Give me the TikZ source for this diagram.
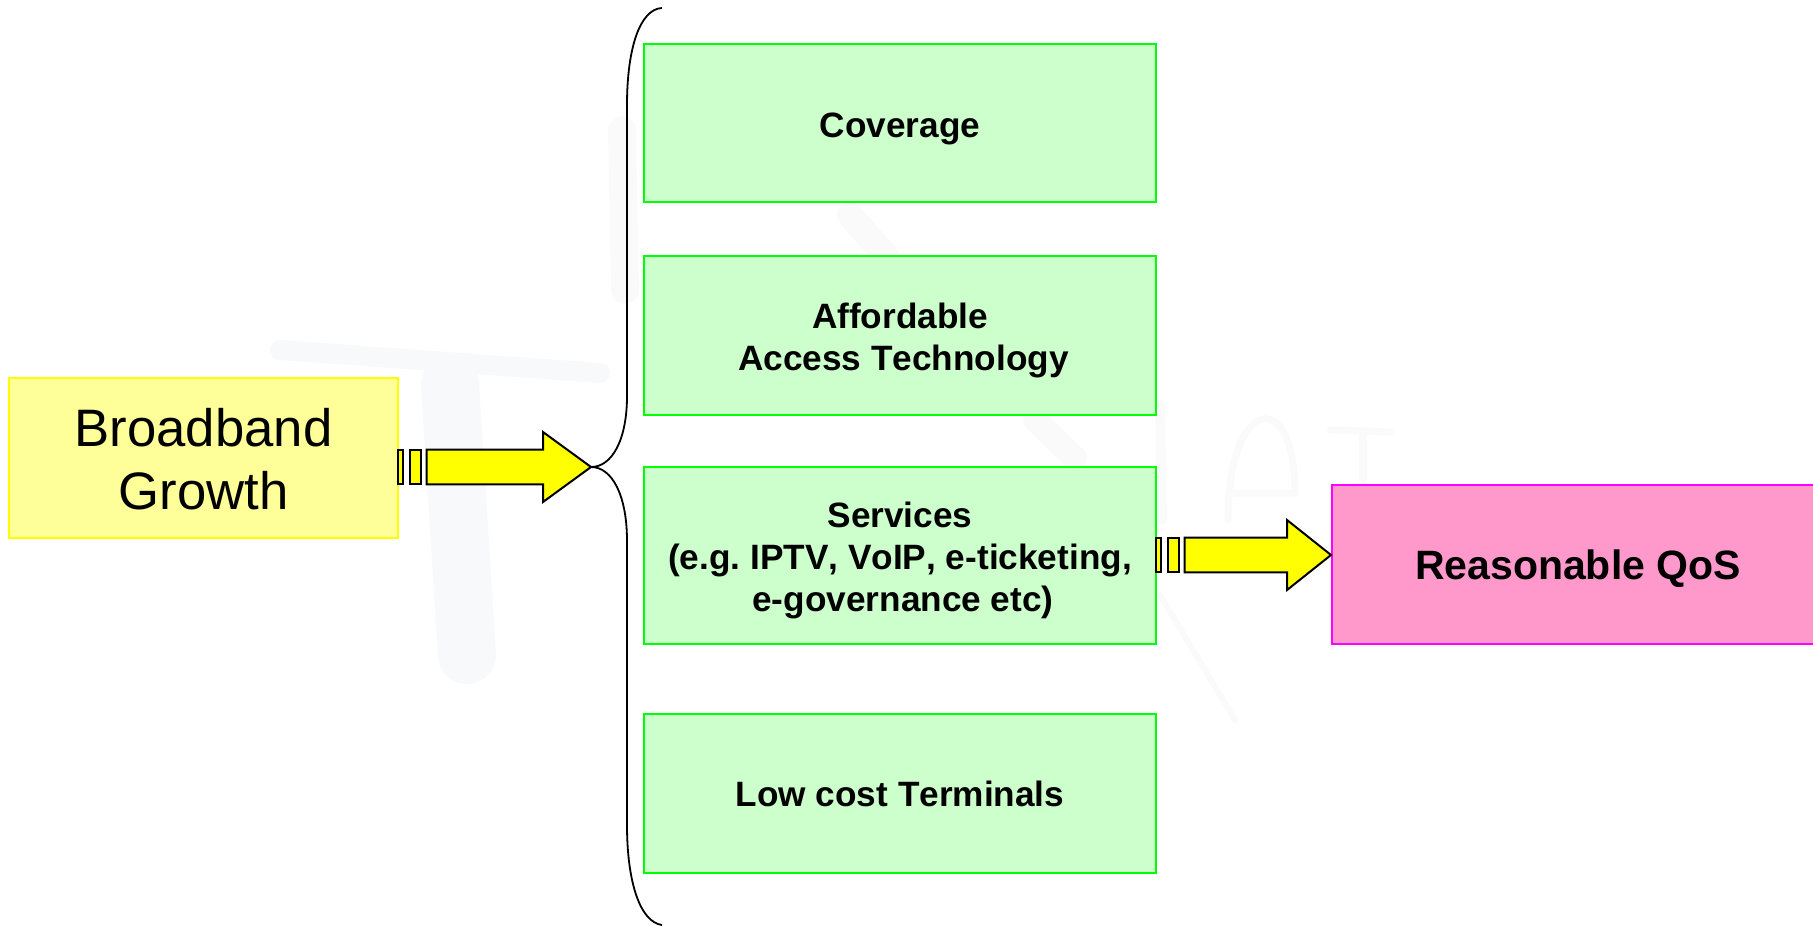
\documentclass[tikz,border=0pt]{standalone}
\usepackage{fontspec}
\setmainfont[Kerning=Off]{Liberation Sans}
\usetikzlibrary{calc}
\definecolor{yelfill}{HTML}{FFFF99}
\definecolor{yelline}{HTML}{FFFF00}
\definecolor{grnfill}{HTML}{CCFFCC}
\definecolor{grnline}{HTML}{00FF00}
\definecolor{pnkfill}{HTML}{FF99CC}
\definecolor{pnkline}{HTML}{FF00FF}
\definecolor{wmark}{HTML}{F7F9FA}
\definecolor{wmarklight}{HTML}{FAFAFB}
\tikzset{
  yelbox/.style={draw=yelline,fill=yelfill,line width=2pt,minimum width=389pt,minimum height=160pt,inner sep=0pt,align=center,font=\fontsize{52.7}{63}\selectfont},
  grnbox/.style={draw=grnline,fill=grnfill,line width=2pt,minimum width=512pt,inner sep=0pt,align=center,font=\fontsize{35.2}{42.2}\selectfont\bfseries},
  pnkbox/.style={draw=pnkline,fill=pnkfill,line width=2pt,minimum width=492pt,minimum height=159pt,inner sep=0pt,align=center,font=\fontsize{41}{49}\selectfont\bfseries},
  blockarrow/.style={draw=black,fill=yelline,line width=2pt,line join=miter},
  bracket/.style={draw=black,line width=1.8pt},
  wm/.style={draw=wmark,line cap=round},
  wml/.style={draw=wmarklight,line cap=round}
}
% #1 start, #2 tip, #3 head length
\newcommand{\stripedarrow}[3]{%
  \draw[blockarrow] ($(#1)+(-1.5,-17.3)$) rectangle ($(#1)+(4.4,17.3)$);
  \draw[blockarrow] ($(#1)+(10.5,-17.3)$) rectangle ($(#1)+(21.5,17.3)$);
  \draw[blockarrow] ($(#1)+(27.5,-17.3)$) -- ($(#2)+(-#3,-17.3)$) -- ($(#2)+(-#3,-35)$) -- (#2)
     -- ($(#2)+(-#3,35)$) -- ($(#2)+(-#3,17.3)$) -- ($(#1)+(27.5,17.3)$) -- cycle;
}
\newcommand{\lowertext}[1]{\rule{0pt}{#1}}
\begin{document}
\frenchspacing
\begin{tikzpicture}[x=1pt,y=-1pt]
\useasboundingbox (0,0) rectangle (1813,926);
% faint watermark
\draw[wm,line width=20pt] (280,350) -- (600,373);
\draw[wm,line width=58pt] (450,385) -- (467,655);
\draw[wml,line width=28pt] (622,130) -- (625,290);
\draw[wml,line width=26pt] (850,215) -- (885,255);
\draw[wml,line width=24pt] (1035,420) -- (1075,458);
\draw[wml,line width=6pt] (1160,595) -- (1235,720);
\draw[wml,line width=10pt] (1160,405) -- (1162,520);
\draw[wml,line width=7pt] (1228,520) .. controls (1228,395) and (1295,385) .. (1295,493) -- (1228,493);
\draw[wml,line width=7pt] (1330,430) -- (1390,432);
\draw[wml,line width=8pt] (1363,432) -- (1363,484);
% boxes
\node[yelbox] (growth) at (203.5,458) {\lowertext{41.5pt}Broadband\\Growth};
\node[grnbox,minimum height=158pt] (coverage) at (900,123) {\lowertext{37pt}Coverage};
\node[grnbox,minimum height=159pt] (access) at (900,335) {\lowertext{36pt}Affordable\\\hspace*{7pt}Access Technology};
\node[grnbox,minimum height=177pt] (services) at (900,555) {\lowertext{37pt}Services\\(e.g. IPTV, VoIP, e-ticketing,\\\hspace*{6pt}e-governance etc)};
\node[grnbox,minimum height=159pt] (terminals) at (900,793.5) {Low cost Terminals};
\node[pnkbox] (qos) at (1578,564) {\lowertext{40pt}Reasonable QoS};
% brace
\coordinate (tip) at (591,467);
\coordinate (bracetop) at (662,8);
\coordinate (bracebot) at (662,925);
\draw[bracket] (bracetop) .. controls (640,9) and (627,48) .. (627,105) -- (627,396)
   .. controls (627,440) and (612,467) .. (tip)
   .. controls (612,467) and (627,495) .. (627,541) -- (627,825)
   .. controls (627,882) and (640,922) .. (bracebot);
% arrows
\stripedarrow{growth.east |- tip}{tip}{48}
\stripedarrow{services.east}{services.east -| qos.west}{44}
\end{tikzpicture}
\end{document}
